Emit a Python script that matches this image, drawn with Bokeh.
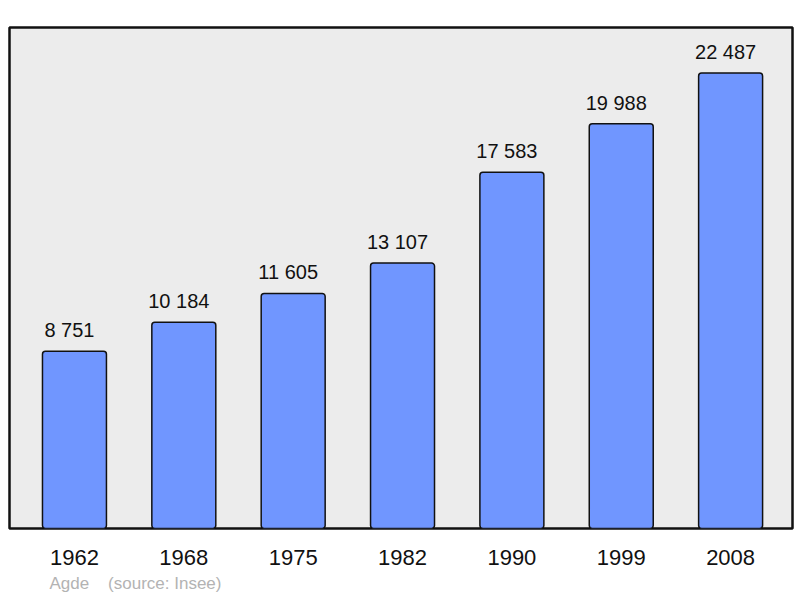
from bokeh.plotting import figure
from bokeh.models import ColumnDataSource, FixedTicker, Title, Range1d
from bokeh.embed import file_html
from bokeh.resources import INLINE
from bokeh.core.properties import value

years = ["1962", "1968", "1975", "1982", "1990", "1999", "2008"]
population = [8751, 10184, 11605, 13107, 17583, 19988, 22487]
value_labels = ["8 751", "10 184", "11 605", "13 107", "17 583", "19 988", "22 487"]
place = "Agde"
source_text = "(source: Insee)"

xs = list(range(len(years)))
src = ColumnDataSource(dict(x=xs, pop=population, lab=value_labels))

p = figure(width=800, height=598, output_backend="svg", toolbar_location=None,
           x_range=Range1d(-0.594, len(years) - 1 + 0.566),
           y_range=Range1d(0, max(population) * 1.1),
           min_border_left=9, min_border_right=8, min_border_top=27, min_border_bottom=70)

p.background_fill_color = "#ececec"
p.border_fill_color = "white"
p.outline_line_color = "#111111"
p.outline_line_width = 2.5
p.grid.visible = False
p.yaxis.visible = False

p.vbar(x="x", top="pop", bottom=0, width=0.585, source=src,
       fill_color="#7096ff", line_color="#111111", line_width=1.5, border_radius=3)

p.text(x="x", y="pop", text="lab", source=src, y_offset=-21, x_offset=-5,
       text_align="center", text_baseline="alphabetic",
       text_font=value("Liberation Sans"), text_font_size="20px", text_color="#111111")

xa = p.xaxis[0]
xa.ticker = FixedTicker(ticks=xs)
xa.major_label_overrides = {i: y for i, y in zip(xs, years)}
xa.axis_line_color = None
xa.major_tick_line_color = None
xa.minor_tick_line_color = None
xa.major_label_text_font = "Liberation Sans"
xa.major_label_text_font_size = "22px"
xa.major_label_text_color = "#111111"
xa.major_label_standoff = 15

caption = Title(text=place + "\u00a0\u00a0\u00a0 " + source_text, align="left", offset=40,
                text_font="Liberation Sans", text_font_size="17px",
                text_font_style="normal", text_color="#b3b3b3", standoff=8)
p.add_layout(caption, "below")

open("out.html", "w").write(file_html(p, INLINE))
